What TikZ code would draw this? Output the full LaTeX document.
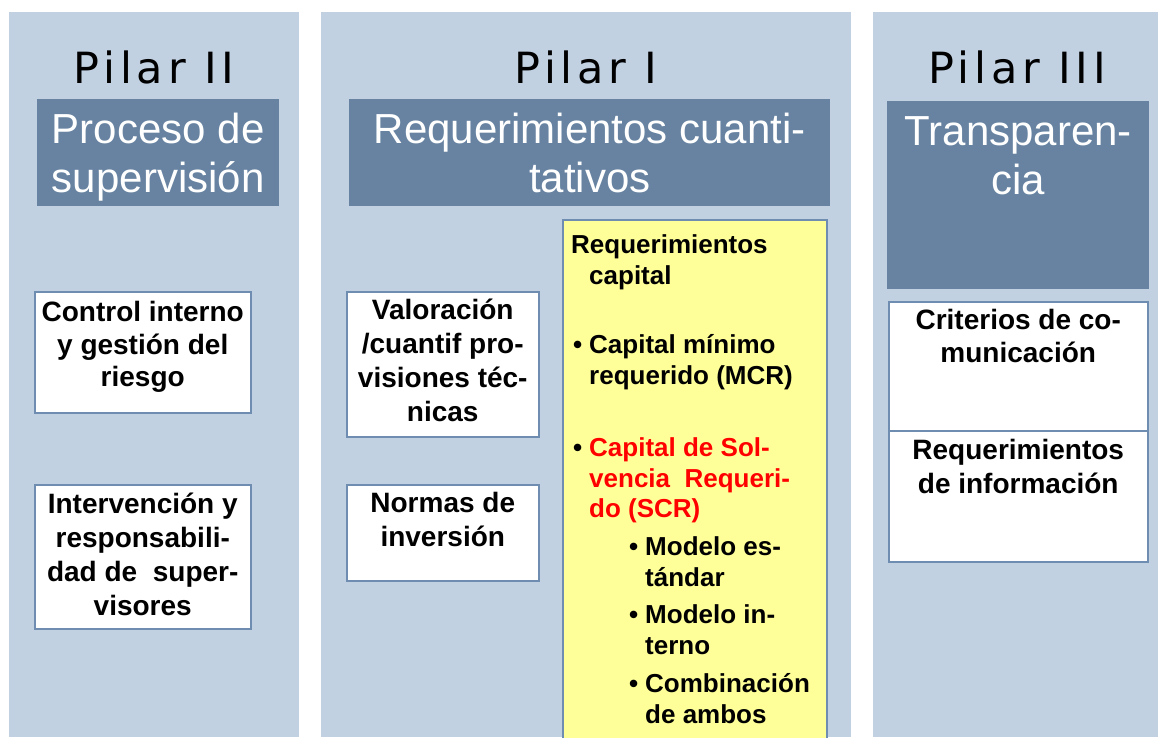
\documentclass[tikz,border=0pt]{standalone}
\usepackage{fontspec}
\setmainfont{Liberation Sans}
\newfontfamily\pilarfont[LetterSpace=11]{DejaVu Sans}
\usepackage{xcolor}
\usepackage{tikz}
\usetikzlibrary{positioning}

\definecolor{pilarbg}{HTML}{C1D1E1}
\definecolor{headbg}{HTML}{6783A1}
\definecolor{boxline}{HTML}{6F8DB1}
\definecolor{capyellow}{HTML}{FFFF99}
\definecolor{scrred}{HTML}{FF0000}

\tikzset{
  pilartitle/.style={font=\pilarfont\fontsize{43}{50}\selectfont, inner sep=0pt},
  headbox/.style={fill=headbg, inner sep=0pt, anchor=north west},
  headtext/.style={text=white, font=\fontsize{42}{49}\selectfont, align=center, inner sep=0pt, anchor=north},
  whitebox/.style={draw=boxline, line width=1.5pt, fill=white, inner sep=0pt, anchor=north west},
  boxtext/.style={font=\bfseries\fontsize{28}{34}\selectfont, align=center, inner sep=0pt, anchor=north},
  captext/.style={font=\bfseries\fontsize{26}{30.5}\selectfont, align=left, inner sep=0pt, anchor=north west},
}
\newcommand{\capbullet}{\llap{\color{black}\textbullet\hspace{7pt}}}

\begin{document}
\begin{tikzpicture}[x=1pt,y=-1pt]
  \useasboundingbox (0,0) rectangle (1158,737);
  \fill[white] (0,0) rectangle (1158,737);

  % the three pillars
  \fill[pilarbg] (9,12) rectangle (299,737);
  \fill[pilarbg] (321,12) rectangle (851,737);
  \fill[pilarbg] (873,12) rectangle (1158,737);

  % Pilar II
  \node[pilartitle, anchor=base] (p2title) at (154,83) {Pilar II};
  \node[headbox, minimum width=242pt, minimum height=107pt] (p2head) at (37,99) {};
  \node[headtext] (p2headtxt) at ([yshift=-10pt]p2head.north) {\strut Proceso de\\supervisión};
  \node[whitebox, minimum width=216pt, minimum height=121pt] (control) at (34,291) {};
  \node[boxtext, font=\bfseries\fontsize{28}{32.5}\selectfont] (controltxt) at ([yshift=-8pt]control.north)
    {\strut Control interno\\y gestión del\\riesgo};
  \node[whitebox, minimum width=216pt, minimum height=144pt] (interv) at (34,484) {};
  \node[boxtext] (intervtxt) at ([yshift=-5pt]interv.north)
    {\strut Intervención y\\responsabili-\\dad de \ super-\\visores};

  % Pilar I
  \node[pilartitle, anchor=base] (p1title) at (586,83) {Pilar I};
  \node[headbox, minimum width=481pt, minimum height=107pt] (p1head) at (349,99) {};
  \node[headtext] (p1headtxt) at ([yshift=-10pt]p1head.north) {\strut Requerimientos cuanti-\\tativos};
  \node[whitebox, minimum width=192pt, minimum height=145pt] (valor) at (346,291) {};
  \node[boxtext] (valortxt) at ([yshift=-4pt]valor.north)
    {\strut Valoración\\/cuantif pro-\\visiones téc-\\nicas};
  \node[whitebox, minimum width=192pt, minimum height=96pt] (normas) at (346,484) {};
  \node[boxtext] (normastxt) at ([yshift=-4pt]normas.north) {\strut Normas de\\inversión};
  \node[whitebox, fill=capyellow, minimum width=264pt, minimum height=530pt] (capital) at (562,219) {};
  \node[captext] (capreq) at (571,232) {\strut Requerimientos\\\hspace*{18pt}capital};
  \node[captext] (mcr) at (589,332) {\strut\capbullet Capital mínimo\\requerido (MCR)};
  \node[captext, text=scrred] (scr) at (589,435) {\strut\capbullet Capital de Sol-\\vencia \ Requeri-\\do (SCR)};
  \node[captext] (estandar) at (645,534) {\strut\capbullet Modelo es-\\tándar};
  \node[captext] (interno) at (645,602) {\strut\capbullet Modelo in-\\terno};
  \node[captext] (ambos) at (645,671) {\strut\capbullet Combinación\\de ambos};

  % Pilar III
  \node[pilartitle, anchor=base] (p3title) at (1017,83) {Pilar III};
  \node[headbox, minimum width=262pt, minimum height=188pt] (p3head) at (887,101) {};
  \node[headtext] (p3headtxt) at ([yshift=-10pt]p3head.north) {\strut Transparen-\\cia};
  \node[whitebox, minimum width=259pt, minimum height=129pt] (criterios) at (888,301) {};
  \node[boxtext, font=\bfseries\fontsize{28}{33}\selectfont] (criteriostxt) at ([yshift=-5pt]criterios.north)
    {\strut Criterios de co-\\municación};
  \node[whitebox, minimum width=259pt, minimum height=131pt] (info) at (888,430) {};
  \node[boxtext] (infotxt) at ([yshift=-5pt]info.north) {\strut Requerimientos\\de información};
\end{tikzpicture}
\end{document}
